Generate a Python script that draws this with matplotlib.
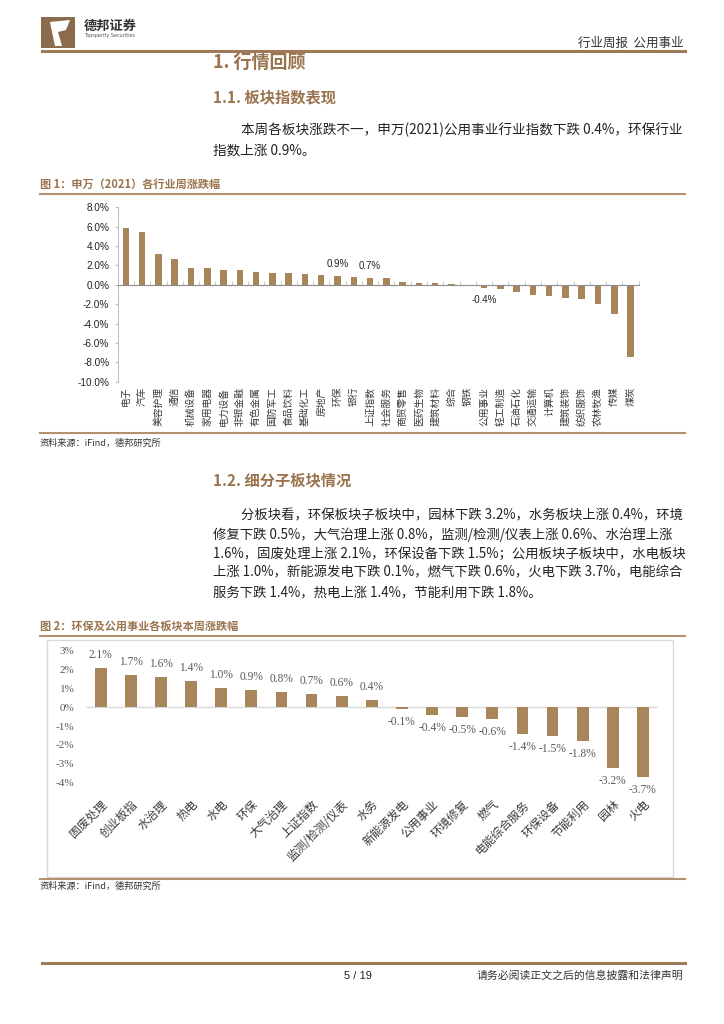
import matplotlib
matplotlib.use("Agg")
import matplotlib.pyplot as plt
from matplotlib.patches import Rectangle, Polygon

plt.rcParams['font.family'] = ['Noto Sans CJK SC', 'DejaVu Sans']

W, H = 724, 1024
BROWN = '#A8855A'
LINE = '#B4906C'
HEAD = '#9A744E'
GRAY = '#595959'

# 图1 数据：申万(2021)各行业周涨跌幅 (%)
sw_names = ['电子', '汽车', '美容护理', '通信', '机械设备', '家用电器', '电力设备', '非银金融',
            '有色金属', '国防军工', '食品饮料', '基础化工', '房地产', '环保', '银行', '上证指数',
            '社会服务', '商贸零售', '医药生物', '建筑材料', '综合', '钢铁', '公用事业', '轻工制造',
            '石油石化', '交通运输', '计算机', '建筑装饰', '纺织服饰', '农林牧渔', '传媒', '煤炭']
sw_chg = [5.85, 5.4, 3.2, 2.65, 1.75, 1.72, 1.55, 1.5,
          1.3, 1.2, 1.2, 1.1, 1.05, 0.9, 0.85, 0.72,
          0.67, 0.32, 0.2, 0.2, 0.08, -0.05, -0.38, -0.45,
          -0.7, -1.1, -1.16, -1.4, -1.5, -2.03, -2.98, -7.5]
sw_marked = ['环保', '上证指数', '公用事业']

# 图2 数据：环保及公用事业各板块本周涨跌幅 (%)
sub_names = ['固废处理', '创业板指', '水治理', '热电', '水电', '环保', '大气治理', '上证指数',
             '监测/检测/仪表', '水务', '新能源发电', '公用事业', '环境修复', '燃气', '电能综合服务',
             '环保设备', '节能利用', '园林', '火电']
sub_chg = [2.1, 1.7, 1.6, 1.4, 1.0, 0.9, 0.8, 0.7, 0.6, 0.4, -0.1, -0.4, -0.5, -0.6, -1.4,
           -1.5, -1.8, -3.2, -3.7]


def fx(x):
    return x / W


def fy(y):
    return 1 - y / H


def hline(fig, y, x0, x1, color=LINE, lw=1.5):
    fig.add_artist(plt.Line2D([fx(x0), fx(x1)], [fy(y), fy(y)], color=color, lw=lw))


fig = plt.figure(figsize=(W / 100, H / 100), dpi=100)

# ---- 页眉 ----
fig.add_artist(Rectangle((fx(41), fy(48)), fx(34), 31 / H, color='#8C6A4C', lw=0))
fig.add_artist(Polygon([(fx(50), fy(22)), (fx(70), fy(20)), (fx(66), fy(30)), (fx(58), fy(32)),
                        (fx(62), fy(46)), (fx(55), fy(46)), (fx(52), fy(32))],
                       closed=True, color='white', lw=0))
fig.text(fx(84), fy(26), '德邦证券', fontsize=9.5, fontweight='bold', color='#333333', va='center')
fig.text(fx(84), fy(36), 'Topsperity Securities', fontsize=3.5, color='#555555', va='center',
         family=['DejaVu Sans'])
fig.text(fx(683), fy(43), '行业周报  公用事业', fontsize=9, color='#333333', ha='right', va='center')
hline(fig, 51, 42, 685, color='#A07A58', lw=2.2)

fig.text(fx(213), fy(62), '1. 行情回顾', fontsize=13, fontweight='bold', color=HEAD, va='center')
fig.text(fx(213), fy(97), '1.1. 板块指数表现', fontsize=11, fontweight='bold', color=HEAD, va='center')
fig.text(fx(241), fy(130), '本周各板块涨跌不一，申万(2021)公用事业行业指数下跌 0.4%，环保行业',
         fontsize=9.8, color='#222222', va='center')
fig.text(fx(213), fy(150), '指数上涨 0.9%。', fontsize=9.8, color='#222222', va='center')

fig.text(fx(40), fy(184), '图 1：申万（2021）各行业周涨跌幅', fontsize=8, fontweight='bold',
         color=HEAD, va='center')
hline(fig, 194, 40, 685)

# ---- 图1 ----
ax1 = fig.add_axes([fx(117.7), fy(381.7), 521 / W, 174.4 / H])
xs = list(range(len(sw_names)))
ax1.bar(xs, sw_chg, width=0.4, color=BROWN, zorder=2)
ax1.set_xlim(-0.5, len(sw_names) - 0.5)
ax1.set_ylim(-10, 8)
ax1.set_yticks(range(-10, 9, 2))
ax1.set_yticklabels([f'{v:.1f}%' for v in range(-10, 9, 2)], family=['Liberation Sans'],
                    fontsize=7.2, color='#222222')
for s in ['top', 'right']:
    ax1.spines[s].set_visible(False)
ax1.spines['left'].set_color('#BFBFBF')
ax1.spines['bottom'].set_position(('data', 0))
ax1.spines['bottom'].set_color('#8C8C8C')
ax1.tick_params(axis='y', length=2, color='#BFBFBF', pad=4)
ax1.set_xticks(xs)
ax1.tick_params(axis='x', which='major', length=0, labelbottom=False)
ax1.set_xticks([i - 0.5 for i in range(len(sw_names) + 1)], minor=True)
ax1.tick_params(axis='x', which='minor', direction='in', length=3, color='#BFBFBF')
for i, name in enumerate(sw_names):
    ax1.text(i, -0.03, name, transform=ax1.get_xaxis_transform(), rotation=90,
             ha='center', va='top', fontsize=7, color='#3A3A3A')
for name in sw_marked:
    i = sw_names.index(name)
    v = sw_chg[i]
    ax1.annotate(f'{v:.1f}%', (i, v), xytext=(0, 5 if v > 0 else -5), textcoords='offset points',
                 ha='center', va='bottom' if v > 0 else 'top', fontsize=7,
                 family=['Liberation Sans'], color='#222222')

hline(fig, 433, 40, 685)
fig.text(fx(40), fy(443), '资料来源：iFind，德邦研究所', fontsize=6.6, color='#333333', va='center')

# ---- 第二段 ----
fig.text(fx(213), fy(480), '1.2. 细分子板块情况', fontsize=11, fontweight='bold', color=HEAD, va='center')
para = ['分板块看，环保板块子板块中，园林下跌 3.2%，水务板块上涨 0.4%，环境',
        '修复下跌 0.5%，大气治理上涨 0.8%，监测/检测/仪表上涨 0.6%、水治理上涨',
        '1.6%，固废处理上涨 2.1%，环保设备下跌 1.5%；公用板块子板块中，水电板块',
        '上涨 1.0%，新能源发电下跌 0.1%，燃气下跌 0.6%，火电下跌 3.7%，电能综合',
        '服务下跌 1.4%，热电上涨 1.4%，节能利用下跌 1.8%。']
for k, line in enumerate(para):
    fig.text(fx(241 if k == 0 else 213), fy(515 + k * 19.3), line, fontsize=9.6,
             color='#222222', va='center')

fig.text(fx(40), fy(626), '图 2：环保及公用事业各板块本周涨跌幅', fontsize=8, fontweight='bold',
         color=HEAD, va='center')
hline(fig, 636, 40, 685)
fig.add_artist(Rectangle((fx(47), fy(877)), fx(673 - 47), (877 - 640) / H, fill=False,
                         edgecolor='#D9D9D9', lw=1))

# ---- 图2 ----
ax2 = fig.add_axes([fx(85.6), fy(782.7), 572.4 / W, 132 / H])
xs2 = list(range(len(sub_names)))
ax2.bar(xs2, sub_chg, width=0.39, color=BROWN, zorder=2)
ax2.axhline(0, color='#D9D9D9', lw=1, zorder=1)
ax2.set_xlim(-0.5, len(sub_names) - 0.5)
ax2.set_ylim(-4, 3)
ax2.set_yticks(range(-4, 4))
ax2.set_yticklabels([f'{v}%' for v in range(-4, 4)], family=['Liberation Serif'],
                    fontsize=8, color=GRAY)
for s in ax2.spines.values():
    s.set_visible(False)
ax2.tick_params(axis='y', length=0, pad=8)
ax2.set_xticks(xs2)
ax2.set_xticklabels(sub_names, rotation=45, ha='right', rotation_mode='anchor',
                    fontsize=8.5, color='#3A3A3A')
ax2.tick_params(axis='x', length=0, pad=11)
for i, v in enumerate(sub_chg):
    ax2.annotate(f'{v:.1f}%', (i, v), xytext=(0, 5 if v > 0 else -5), textcoords='offset points',
                 ha='center', va='bottom' if v > 0 else 'top', fontsize=8.3,
                 family=['Liberation Serif'], color=GRAY)

hline(fig, 879, 40, 685)
fig.text(fx(40), fy(886), '资料来源：iFind，德邦研究所', fontsize=6.6, color='#333333', va='center')

# ---- 页脚 ----
hline(fig, 963, 42, 685, color='#A07A58', lw=2.2)
fig.text(fx(358), fy(976), '5 / 19', fontsize=8, color='#222222', ha='center', va='center',
         family=['Liberation Sans'])
fig.text(fx(683), fy(976), '请务必阅读正文之后的信息披露和法律声明', fontsize=7.8, color='#333333',
         ha='right', va='center')

fig.savefig('out.png', dpi=100)
